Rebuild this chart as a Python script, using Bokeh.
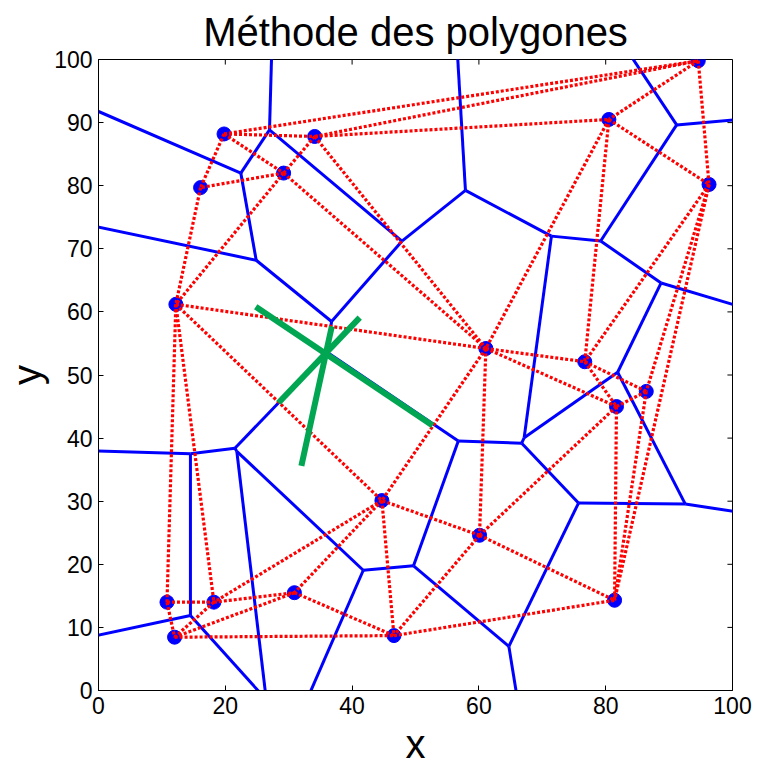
import math
from bokeh.plotting import figure
from bokeh.models import Range1d, FixedTicker
from bokeh.embed import file_html
from bokeh.resources import INLINE

# ---- data ----
pt_x = [19.8, 34.1, 29.2, 16.1, 12.2, 94.6, 80.5, 96.3, 61.1, 76.7,
        81.7, 86.4, 60.1, 44.7, 10.8, 18.2, 30.9, 12.0, 46.6, 81.4]
pt_y = [88.2, 87.8, 82.0, 79.7, 61.2, 99.8, 90.5, 80.2, 54.2, 52.1,
        45.0, 47.4, 24.6, 30.1, 14.0, 14.0, 15.5, 8.45, 8.7, 14.3]

green_x0 = [24.8, 41.2, 36.8]
green_y0 = [60.8, 59.1, 57.7]
green_x1 = [52.7, 28.4, 32.0]
green_y1 = [42.0, 45.6, 35.6]

x_ticks = [0, 20, 40, 60, 80, 100]
y_ticks = [0, 10, 20, 30, 40, 50, 60, 70, 80, 90, 100]
title_text = "Méthode des polygones"
x_label = "x"
y_label = "y"

X_MIN, X_MAX = 0, 100
Y_MIN, Y_MAX = 0, 100


# ---- Delaunay triangulation (Bowyer-Watson) and Voronoi diagram ----
def circumcenter(a, b, c):
    ax, ay = a
    bx, by = b
    cx, cy = c
    d = 2 * (ax * (by - cy) + bx * (cy - ay) + cx * (ay - by))
    ux = ((ax * ax + ay * ay) * (by - cy) + (bx * bx + by * by) * (cy - ay) + (cx * cx + cy * cy) * (ay - by)) / d
    uy = ((ax * ax + ay * ay) * (cx - bx) + (bx * bx + by * by) * (ax - cx) + (cx * cx + cy * cy) * (bx - ax)) / d
    return ux, uy


def delaunay(xs, ys):
    pts = list(zip(xs, ys))
    n = len(pts)
    big = 1e6
    pts_ext = pts + [(-big, -big), (big, -big), (0.0, big)]
    tris = [(n, n + 1, n + 2)]
    for i in range(n):
        p = pts_ext[i]
        bad = []
        for t in tris:
            cc = circumcenter(pts_ext[t[0]], pts_ext[t[1]], pts_ext[t[2]])
            r2 = (pts_ext[t[0]][0] - cc[0]) ** 2 + (pts_ext[t[0]][1] - cc[1]) ** 2
            if (p[0] - cc[0]) ** 2 + (p[1] - cc[1]) ** 2 < r2:
                bad.append(t)
        cnt = {}
        for t in bad:
            for e in ((t[0], t[1]), (t[1], t[2]), (t[2], t[0])):
                k = tuple(sorted(e))
                cnt[k] = cnt.get(k, 0) + 1
        tris = [t for t in tris if t not in bad]
        for k, c in cnt.items():
            if c == 1:
                tris.append((k[0], k[1], i))
    return [t for t in tris if max(t) < n], pts


tris, pts = delaunay(pt_x, pt_y)

edge_tris = {}
for ti, t in enumerate(tris):
    for a, b, c in ((t[0], t[1], t[2]), (t[1], t[2], t[0]), (t[2], t[0], t[1])):
        k = tuple(sorted((a, b)))
        edge_tris.setdefault(k, []).append((ti, c))

centers = [circumcenter(pts[t[0]], pts[t[1]], pts[t[2]]) for t in tris]

d_x0, d_y0, d_x1, d_y1 = [], [], [], []
v_x0, v_y0, v_x1, v_y1 = [], [], [], []
for (i, j), lst in edge_tris.items():
    d_x0.append(pts[i][0]); d_y0.append(pts[i][1])
    d_x1.append(pts[j][0]); d_y1.append(pts[j][1])
    if len(lst) == 2:
        c1 = centers[lst[0][0]]
        c2 = centers[lst[1][0]]
        v_x0.append(c1[0]); v_y0.append(c1[1])
        v_x1.append(c2[0]); v_y1.append(c2[1])
    else:
        ti, k = lst[0]
        cc = centers[ti]
        ex = pts[j][0] - pts[i][0]
        ey = pts[j][1] - pts[i][1]
        nx, ny = -ey, ex
        mx = (pts[i][0] + pts[j][0]) / 2 - pts[k][0]
        my = (pts[i][1] + pts[j][1]) / 2 - pts[k][1]
        if nx * mx + ny * my < 0:
            nx, ny = -nx, -ny
        ln = math.hypot(nx, ny)
        L = 400.0
        v_x0.append(cc[0]); v_y0.append(cc[1])
        v_x1.append(cc[0] + nx / ln * L); v_y1.append(cc[1] + ny / ln * L)

# ---- figure ----
p = figure(width=757, height=768, output_backend="svg", toolbar_location=None,
           x_range=Range1d(X_MIN, X_MAX), y_range=Range1d(Y_MIN, Y_MAX),
           min_border_left=98, min_border_right=25, min_border_top=59, min_border_bottom=77,
           title=title_text)
p.title.text_font = "Liberation Sans"
p.title.text_font_size = "40px"
p.title.text_font_style = "normal"
p.title.align = "center"
p.title.text_color = "black"
p.title.standoff = 12
p.xgrid.visible = False
p.ygrid.visible = False
p.outline_line_color = "black"
p.outline_line_width = 1
p.background_fill_color = "white"
p.border_fill_color = "white"

xb = p.xaxis[0]
yl = p.yaxis[0]
xb.axis_label = x_label
yl.axis_label = y_label
xb.ticker = FixedTicker(ticks=x_ticks)
yl.ticker = FixedTicker(ticks=y_ticks)

for ax in [xb, yl]:
    ax.major_tick_in = 5
    ax.major_tick_out = 0
    ax.minor_tick_line_color = None
    ax.axis_line_color = "black"
    ax.major_tick_line_color = "black"
    ax.major_label_text_font = "Liberation Sans"
    ax.major_label_text_font_size = "23px"
    ax.major_label_text_color = "black"
    ax.axis_label_text_font = "Liberation Sans"
    ax.axis_label_text_font_size = "40px"
    ax.axis_label_text_font_style = "normal"
    ax.axis_label_text_color = "black"
    ax.major_label_standoff = 6
    ax.axis_label_standoff = 2
xb.axis_label_standoff = 5

p.segment(v_x0, v_y0, v_x1, v_y1, line_color="blue", line_width=3)
p.scatter(pt_x, pt_y, size=14, fill_color="blue", line_color="blue")
p.segment(d_x0, d_y0, d_x1, d_y1, line_color="red", line_width=3.2, line_dash="3 2")
p.segment(green_x0, green_y0, green_x1, green_y1, line_color="#00A651", line_width=6)

# inward ticks on the top and right edges of the box (MATLAB "box on")
tick_dy = 0.8
tick_dx = 0.8
p.segment(x_ticks, [Y_MAX] * len(x_ticks), x_ticks, [Y_MAX - tick_dy] * len(x_ticks),
          line_color="black", line_width=1)
p.segment([X_MAX] * len(y_ticks), y_ticks, [X_MAX - tick_dx] * len(y_ticks), y_ticks,
          line_color="black", line_width=1)

open("out.html", "w").write(file_html(p, INLINE))
